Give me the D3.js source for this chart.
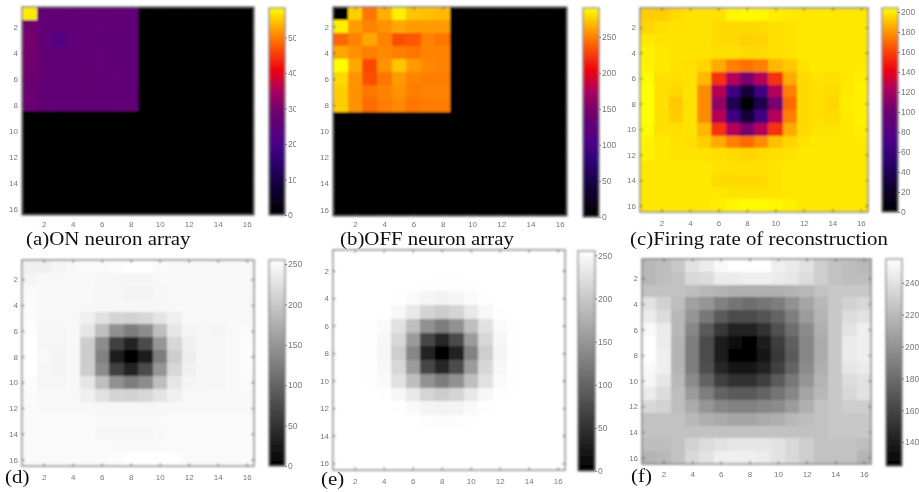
<!DOCTYPE html>
<html><head><meta charset="utf-8">
<script src="https://cdn.jsdelivr.net/npm/d3@7"></script>
<style>html,body{margin:0;padding:0;background:#fff;overflow:hidden}</style>
</head><body><svg id="c" width="919" height="492" style="display:block"></svg>
<script>
const axisTicks = [2,4,6,8,10,12,14,16];
const captions = ["(a)ON neuron array","(b)OFF neuron array","(c)Firing rate of reconstruction","(d)","(e)","(f)"];
const barTicksA = [0,100,200,300,400,500];
const barTicksB = [0,50,100,150,200,250];
const barTicksC = [0,20,40,60,80,100,120,140,160,180,200];
const barTicksD = [0,50,100,150,200,250];
const barTicksE = [0,50,100,150,200,250];
const barTicksF = [140,160,180,200,220,240];

const valuesA = [
[570,265,262,262,262,262,262,262,0,0,0,0,0,0,0,0],
[290,262,258,258,262,262,258,255,0,0,0,0,0,0,0,0],
[300,262,225,250,262,258,255,250,0,0,0,0,0,0,0,0],
[295,265,250,258,262,262,258,255,0,0,0,0,0,0,0,0],
[290,265,262,262,265,262,258,258,0,0,0,0,0,0,0,0],
[285,265,262,265,265,262,262,258,0,0,0,0,0,0,0,0],
[280,265,258,265,265,262,262,262,0,0,0,0,0,0,0,0],
[278,265,258,265,265,265,262,262,0,0,0,0,0,0,0,0],
[0,0,0,0,0,0,0,0,0,0,0,0,0,0,0,0],
[0,0,0,0,0,0,0,0,0,0,0,0,0,0,0,0],
[0,0,0,0,0,0,0,0,0,0,0,0,0,0,0,0],
[0,0,0,0,0,0,0,0,0,0,0,0,0,0,0,0],
[0,0,0,0,0,0,0,0,0,0,0,0,0,0,0,0],
[0,0,0,0,0,0,0,0,0,0,0,0,0,0,0,0],
[0,0,0,0,0,0,0,0,0,0,0,0,0,0,0,0],
[0,0,0,0,0,0,0,0,0,0,0,0,0,0,0,0]];
const valuesB = [
[0,275,245,265,285,272,270,268,0,0,0,0,0,0,0,0],
[285,258,250,255,262,258,258,258,0,0,0,0,0,0,0,0],
[240,250,262,250,232,235,250,245,0,0,0,0,0,0,0,0],
[262,255,248,252,248,245,250,250,0,0,0,0,0,0,0,0],
[290,262,230,255,272,258,252,250,0,0,0,0,0,0,0,0],
[278,255,232,245,258,250,248,248,0,0,0,0,0,0,0,0],
[275,255,245,250,255,248,250,250,0,0,0,0,0,0,0,0],
[275,255,242,248,252,245,248,248,0,0,0,0,0,0,0,0],
[0,0,0,0,0,0,0,0,0,0,0,0,0,0,0,0],
[0,0,0,0,0,0,0,0,0,0,0,0,0,0,0,0],
[0,0,0,0,0,0,0,0,0,0,0,0,0,0,0,0],
[0,0,0,0,0,0,0,0,0,0,0,0,0,0,0,0],
[0,0,0,0,0,0,0,0,0,0,0,0,0,0,0,0],
[0,0,0,0,0,0,0,0,0,0,0,0,0,0,0,0],
[0,0,0,0,0,0,0,0,0,0,0,0,0,0,0,0],
[0,0,0,0,0,0,0,0,0,0,0,0,0,0,0,0]];
const valuesC = [
[193,193,196,198,198,198,202,203,202,200,199,199,199,199,199,199],
[195,197,198,198,198,196,196,196,196,197,198,199,199,199,199,199],
[199,198,198,198,198,196,196,194,194,197,198,199,199,199,199,199],
[201,199,198,198,198,197,197,196,196,197,198,199,199,199,199,199],
[201,199,198,197,195,185,175,172,175,188,192,198,199,199,199,199],
[203,197,197,198,188,155,125,105,125,155,185,196,198,197,199,200],
[204,197,195,198,178,125,65,30,65,125,175,196,197,196,199,201],
[204,197,192,198,178,115,40,0,38,105,170,196,197,195,200,201],
[204,197,193,198,178,125,65,30,65,125,175,196,197,196,199,201],
[203,197,197,198,188,155,125,105,125,155,185,196,198,198,199,200],
[201,199,198,197,193,185,175,170,178,190,195,198,199,199,199,199],
[201,199,198,198,198,197,196,195,196,197,198,199,199,199,199,199],
[199,199,199,199,199,198,197,197,197,198,199,199,199,199,199,199],
[199,199,199,199,199,196,196,196,196,198,199,199,199,199,199,199],
[199,199,199,199,199,199,198,198,198,198,199,199,199,199,199,199],
[199,199,199,199,199,200,202,203,203,202,201,199,199,199,199,199]];
const valuesD = [
[240,240,245,248,250,250,252,255,255,250,248,248,248,248,248,248],
[244,248,248,248,248,246,246,246,246,248,248,248,248,248,248,248],
[250,248,248,248,248,247,247,243,243,247,248,248,248,248,248,248],
[252,248,248,248,248,247,247,246,246,247,248,248,248,248,248,248],
[252,248,248,248,240,225,212,210,215,228,240,248,248,248,248,248],
[253,246,246,248,230,190,145,125,140,190,230,245,247,245,248,250],
[255,246,246,248,205,140,65,35,75,150,215,240,246,246,248,252],
[255,248,244,248,205,130,30,0,30,125,205,238,246,246,248,252],
[255,246,244,248,205,140,65,35,75,150,215,240,246,246,248,252],
[252,246,246,248,230,190,145,125,140,190,230,245,247,246,248,250],
[250,248,248,248,240,225,212,210,215,228,240,248,248,248,248,248],
[250,248,248,248,248,247,246,246,246,247,248,248,248,248,248,248],
[250,250,250,250,250,248,248,248,248,249,250,250,250,250,250,250],
[250,250,250,250,250,246,246,246,246,248,250,250,250,250,250,250],
[250,250,250,250,250,250,249,249,249,249,250,250,250,250,250,250],
[250,250,250,250,250,250,252,255,255,255,254,250,250,250,250,250]];
const valuesE = [
[255,255,255,255,255,255,255,255,255,255,255,255,255,255,255,255],
[255,255,255,255,255,255,255,255,255,255,255,255,255,255,255,255],
[255,255,255,255,255,255,254,253,253,254,255,255,255,255,255,255],
[255,255,255,255,254,250,245,242,245,250,254,255,255,255,255,255],
[255,255,255,255,247,232,212,204,212,232,247,254,255,255,255,255],
[255,255,254,250,225,190,145,125,145,190,225,250,254,255,255,255],
[255,255,254,247,215,155,70,40,75,155,215,247,254,255,255,255],
[255,255,254,246,205,135,35,0,35,130,205,245,254,255,255,255],
[255,255,254,247,215,155,70,40,75,155,215,247,254,255,255,255],
[255,255,254,250,225,190,145,125,145,190,225,250,254,255,255,255],
[255,255,255,254,247,232,212,204,212,232,247,254,255,255,255,255],
[255,255,255,255,254,249,244,242,244,249,254,255,255,255,255,255],
[255,255,255,255,255,255,253,252,253,254,255,255,255,255,255,255],
[255,255,255,255,255,255,255,255,255,255,255,255,255,255,255,255],
[255,255,255,255,255,255,255,255,255,255,255,255,255,255,255,255],
[255,255,255,255,255,255,255,255,255,255,255,255,255,255,255,255]];
const valuesF = [
[219,222,227,240,245,252,255,255,255,247,245,240,230,224,222,219],
[219,222,224,235,237,245,245,247,247,245,242,237,230,224,222,222],
[224,224,224,222,219,217,214,214,214,214,216,219,224,227,227,227],
[240,232,222,207,201,191,184,181,184,189,199,209,219,227,232,235],
[245,237,219,201,186,171,163,163,168,176,189,204,217,227,237,240],
[252,245,219,194,171,153,143,143,150,166,181,196,214,227,240,247],
[255,245,217,189,163,140,130,128,138,156,173,194,212,227,245,247],
[255,247,217,189,163,139,128,125,135,153,171,194,212,227,245,247],
[252,247,217,189,166,145,135,135,143,158,176,196,214,227,242,245],
[250,242,219,196,176,158,150,150,158,171,186,201,217,227,237,240],
[245,237,222,204,189,176,171,171,176,184,194,209,219,227,235,240],
[235,232,222,212,201,194,191,191,194,196,204,214,224,227,230,230],
[224,224,224,219,214,212,209,209,212,214,219,222,224,227,227,227],
[224,224,224,224,224,224,224,224,224,224,224,224,224,227,227,227],
[222,222,224,232,237,240,242,242,242,240,235,230,224,224,224,222],
[217,219,224,235,240,247,247,247,245,240,235,230,224,224,224,217]];

const fireColors = ["#000000","#14033c","#2c006e","#4a0088","#70006e","#aa0060","#f00010","#ff7800","#ffd000","#ffff00"];
const fireStops  = [0,0.15,0.25,0.35,0.5,0.6,0.7,0.85,0.95,1];
const greyColors = ["#000000","#ffffff"];

const panels = [
 {v:valuesA,x:[22,254],y:[7,215],bx:[269,285],by:[8,215],dom:[0,583],ticks:barTicksA,map:"fire",clip:296,pad:6},
 {v:valuesB,x:[333,567],y:[7,216],bx:[583,599],by:[8,217],dom:[0,290],ticks:barTicksB,map:"fire",pad:5},
 {v:valuesC,x:[640,868],y:[8,212],bx:[882,898],by:[8,212],dom:[0,204],ticks:barTicksC,map:"fire",pad:8},
 {v:valuesD,x:[22,254],y:[260,466],bx:[269,285],by:[260,466],dom:[0,255],ticks:barTicksD,map:"grey",pad:8},
 {v:valuesE,x:[333,565],y:[250,470],bx:[578,595],by:[251,471],dom:[0,255],ticks:barTicksE,map:"grey",pad:8},
 {v:valuesF,x:[642,871],y:[259,464],bx:[886,902],by:[259,466],dom:[125,255],ticks:barTicksF,map:"grey",pad:7}
];
const capPos = [[26,245],[340,245],[630,245],[5,483],[321,485],[631,482]];

const svg = d3.select("#c");
const defs = svg.append("defs");
defs.append("filter").attr("id","soft").attr("filterUnits","userSpaceOnUse").attr("x",0).attr("y",0).attr("width",919).attr("height",492)
  .append("feGaussianBlur").attr("stdDeviation",1.05);
defs.append("filter").attr("id","softT").attr("filterUnits","userSpaceOnUse").attr("x",0).attr("y",0).attr("width",919).attr("height",492)
  .append("feGaussianBlur").attr("stdDeviation",0.4);

const root = svg.append("g").attr("filter","url(#soft)");
const labels = svg.append("g").attr("filter","url(#softT)");

panels.forEach((p,i)=>{
  const x = d3.scaleLinear().domain([0.5,16.5]).range(p.x);
  const y = d3.scaleLinear().domain([0.5,16.5]).range(p.y);
  const t = d3.scaleLinear().domain(p.dom).range([0,1]).clamp(true);
  const ramp = p.map==="fire"
    ? d3.scaleLinear().domain(fireStops).range(fireColors)
    : d3.scaleLinear().domain([0,1]).range(greyColors);
  const colour = d=>ramp(t(d));
  const g = root.append("g");
  const cells = p.v.flatMap((row,r)=>row.map((d,c)=>({r:r+1,c:c+1,d})));
  g.selectAll("rect.cell").data(cells).join("rect").attr("class","cell")
    .attr("shape-rendering","crispEdges")
    .attr("x",d=>Math.round(x(d.c-0.5))).attr("y",d=>Math.round(y(d.r-0.5)))
    .attr("width",d=>Math.round(x(d.c+0.5))-Math.round(x(d.c-0.5))).attr("height",d=>Math.round(y(d.r+0.5))-Math.round(y(d.r-0.5)))
    .attr("fill",d=>colour(d.d));
  g.append("rect").attr("x",p.x[0]).attr("y",p.y[0]).attr("width",p.x[1]-p.x[0]).attr("height",p.y[1]-p.y[0])
    .attr("fill","none").attr("stroke","#707070").attr("stroke-width",1.3);
  const tickCol = "#333";
  [[d3.axisBottom(x),0,p.y[1]],[d3.axisTop(x),0,p.y[0]],[d3.axisLeft(y),p.x[0],0],[d3.axisRight(y),p.x[1],0]].forEach(([ax,tx,ty])=>{
    const a = g.append("g").attr("transform",`translate(${tx},${ty})`)
      .call(ax.tickValues(axisTicks).tickSize(-2.5).tickFormat(""));
    a.select(".domain").remove();
    a.selectAll("line").attr("stroke",tickCol).attr("stroke-width",1);
  });
  const bl = labels.append("g").attr("transform",`translate(0,${p.y[1]})`)
    .call(d3.axisBottom(x).tickValues(axisTicks).tickSize(0).tickPadding(p.pad));
  bl.select(".domain").remove();
  bl.selectAll("text").attr("fill","#777").attr("font-family","'Liberation Sans'").attr("font-size",8);
  const ll = labels.append("g").attr("transform",`translate(${p.x[0]},0)`)
    .call(d3.axisLeft(y).tickValues(axisTicks).tickSize(0).tickPadding(4));
  ll.select(".domain").remove();
  ll.selectAll("text").attr("fill","#777").attr("font-family","'Liberation Sans'").attr("font-size",8);

  const b = d3.scaleLinear().domain(p.dom).range([p.by[1],p.by[0]]);
  const steps = d3.range(p.by[0],p.by[1]);
  g.selectAll("rect.bar").data(steps).join("rect").attr("class","bar")
    .attr("shape-rendering","crispEdges")
    .attr("x",p.bx[0]).attr("width",p.bx[1]-p.bx[0]).attr("y",d=>d).attr("height",1)
    .attr("fill",d=>colour(b.invert(d+0.5)));
  g.append("rect").attr("x",p.bx[0]).attr("y",p.by[0]).attr("width",p.bx[1]-p.bx[0]).attr("height",p.by[1]-p.by[0])
    .attr("fill","none").attr("stroke","#707070").attr("stroke-width",1.1);
  const barAxis = d3.axisRight(b).tickValues(p.ticks).tickSize(2).tickPadding(1).tickFormat(d3.format("d"));
  const ba = labels.append("g").attr("transform",`translate(${p.bx[1]},0)`).call(barAxis);
  ba.select(".domain").remove();
  ba.selectAll("line").attr("stroke","#666").attr("stroke-width",0.8);
  ba.selectAll("text").attr("fill","#777").attr("font-family","'Liberation Sans'").attr("font-size",8.5);
  if(p.clip){
    defs.append("clipPath").attr("id","clip"+i).append("rect").attr("x",p.bx[1]).attr("y",0).attr("width",p.clip-p.bx[1]).attr("height",492);
    labels.append("g").attr("clip-path",`url(#clip${i})`).node().appendChild(ba.node());
  }
});

svg.append("g").attr("filter","url(#softT)").selectAll("text").data(captions).join("text")
  .attr("transform",(d,i)=>`translate(${capPos[i][0]},${capPos[i][1]}) scale(1.16,1)`)
  .attr("font-family","'Liberation Serif'").attr("font-size",18).attr("fill","#111")
  .text(d=>d);
</script></body></html>
